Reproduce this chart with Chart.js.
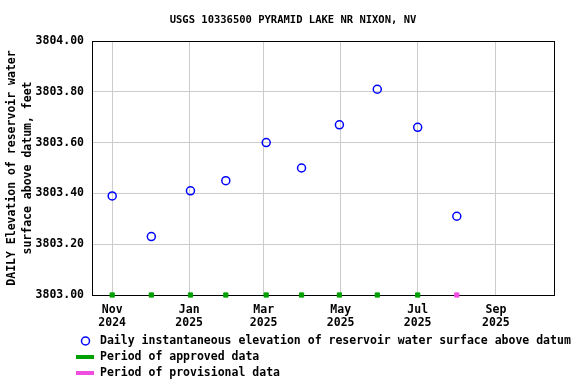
<!DOCTYPE html>
<html>
<head>
<meta charset="utf-8">
<script src="https://cdn.jsdelivr.net/npm/chart.js@4/dist/chart.umd.min.js"></script>
<style>
  html, body { margin: 0; padding: 0; background: #fff; }
  #wrap { width: 576px; height: 384px; }
</style>
</head>
<body>
<div id="wrap"><canvas id="levelChart"></canvas></div>
<script>
// measurement dates and lake elevations (feet)
const sampleDates = ['2024-11-01', '2024-12-02', '2025-01-02', '2025-01-30', '2025-03-03',
    '2025-03-31', '2025-04-30', '2025-05-30', '2025-07-01', '2025-08-01'];
const elevations = [3803.39, 3803.23, 3803.41, 3803.45, 3803.60,
    3803.50, 3803.67, 3803.81, 3803.66, 3803.31];
const approval = ['A', 'A', 'A', 'A', 'A', 'A', 'A', 'A', 'A', 'P'];

// x axis ticks
const tickDates = ['2024-11-01', '2025-01-01', '2025-03-01', '2025-05-01', '2025-07-01', '2025-09-01'];
const tickMonths = ['Nov', 'Jan', 'Mar', 'May', 'Jul', 'Sep'];
const tickYears = ['2024', '2025', '2025', '2025', '2025', '2025'];
const xStart = '2024-10-16';
const xEnd = '2025-10-17';

const titleText = 'USGS 10336500 PYRAMID LAKE NR NIXON, NV';
const yTitle = ['DAILY Elevation of reservoir water', 'surface above datum, feet'];
const yMin = 3803.0, yMax = 3804.0, yStep = 0.2;

const FONT = "'DejaVu Sans Mono', 'Liberation Mono', monospace";
const BLUE = '#0000ff', GREEN = '#00a000', PINK = '#f04ee0';

//days since Nov 1 2024
const base = Date.UTC(2024, 10, 1);
function dayNum(s) {
    var p = s.split('-');
    return (Date.UTC(+p[0], +p[1] - 1, +p[2]) - base) / 86400000;
}
const tickDays = tickDates.map(dayNum);

const points = sampleDates.map((d, i) => ({ x: dayNum(d), y: elevations[i] }));
const approvedPts = sampleDates.filter((d, i) => approval[i] === 'A').map(d => ({ x: dayNum(d), y: yMin }));
const provisionalPts = sampleDates.filter((d, i) => approval[i] === 'P').map(d => ({ x: dayNum(d), y: yMin }));

// title, a little right of the page centre like the original
const topTitle = {
    id: 'topTitle',
    afterDraw(chart) {
        const c = chart.ctx;
        c.save();
        c.font = 'bold 10.5px ' + FONT;
        c.textAlign = 'center';
        c.textBaseline = 'middle';
        c.fillStyle = '#000';
        c.fillText(titleText, chart.width / 2 + 5, 20);
        c.restore();
    }
};

// legend drawn underneath, one item per row
const bottomLegend = {
    id: 'bottomLegend',
    afterDraw(chart) {
        const c = chart.ctx;
        const top = chart.chartArea.bottom;
        c.save();
        c.font = 'bold 11.5px ' + FONT;
        c.textBaseline = 'middle';
        c.fillStyle = '#000';
        chart.data.datasets.forEach((ds, i) => {
            const y = top + 46 + i * 16;
            if (ds.legendKind === 'marker') {
                c.beginPath();
                c.arc(85.5, y, 4, 0, Math.PI * 2);
                c.strokeStyle = ds.borderColor;
                c.lineWidth = 1.5;
                c.stroke();
            } else {
                c.fillStyle = ds.backgroundColor;
                c.fillRect(76, y - 2, 18, 4);
            }
            c.fillStyle = '#000';
            c.fillText(ds.label, 100, y);
        });
        c.restore();
    }
};

const frame = {
    id: 'frame',
    beforeDatasetsDraw(chart) {
        const a = chart.chartArea;
        const c = chart.ctx;
        c.save();
        c.strokeStyle = '#000';
        c.lineWidth = 1;
        c.strokeRect(Math.round(a.left) + 0.5, Math.round(a.top) + 0.5,
            Math.round(a.right - a.left), Math.round(a.bottom - a.top));
        c.restore();
    }
};

const config = {
    type: 'scatter',
    data: {
        datasets: [{
            label: 'Daily instantaneous elevation of reservoir water surface above datum',
            legendKind: 'marker',
            data: points,
            pointStyle: 'circle',
            pointRadius: 4,
            borderColor: BLUE,
            backgroundColor: 'rgba(0,0,0,0)',
            pointBorderWidth: 1.5,
            showLine: false
        }, {
            label: 'Period of approved data',
            legendKind: 'bar',
            data: approvedPts,
            pointStyle: 'rect',
            pointRadius: 3,
            pointBorderWidth: 1,
            backgroundColor: GREEN,
            borderColor: GREEN,
            clip: false
        }, {
            label: 'Period of provisional data',
            legendKind: 'bar',
            data: provisionalPts,
            pointStyle: 'rect',
            pointRadius: 3,
            pointBorderWidth: 1,
            backgroundColor: PINK,
            borderColor: PINK,
            clip: false
        }]
    },
    options: {
        responsive: true,
        maintainAspectRatio: false,
        animation: false,
        events: [],
        layout: {
            padding: { left: 0, right: 22, top: 41, bottom: 55 }
        },
        plugins: {
            legend: { display: false },
            tooltip: { enabled: false },
            title: { display: false }
        },
        scales: {
            x: {
                type: 'linear',
                min: dayNum(xStart),
                max: dayNum(xEnd),
                afterBuildTicks: (scale) => {
                    scale.ticks = tickDays.map(v => ({ value: v }));
                },
                afterFit: (scale) => { scale.height = 34; },
                ticks: {
                    autoSkip: false,
                    maxRotation: 0,
                    padding: 9,
                    color: '#000',
                    font: { family: FONT, size: 11.5, weight: 'bold', lineHeight: 1.1 },
                    callback: (v) => {
                        var i = tickDays.indexOf(v);
                        return i < 0 ? '' : [tickMonths[i], tickYears[i]];
                    }
                },
                grid: { color: '#cccccc', lineWidth: 1, drawTicks: false },
                border: { display: true, color: '#000' }
            },
            y: {
                min: yMin,
                max: yMax,
                afterFit: (scale) => { scale.width = 92; },
                ticks: {
                    stepSize: yStep,
                    padding: 8,
                    color: '#000',
                    font: { family: FONT, size: 11.5, weight: 'bold' },
                    callback: (v) => v.toFixed(2)
                },
                grid: { color: '#cccccc', lineWidth: 1, drawTicks: false },
                border: { display: true, color: '#000' },
                title: {
                    display: true,
                    text: yTitle,
                    color: '#000',
                    font: { family: FONT, size: 11.5, weight: 'bold', lineHeight: 1.4 },
                    padding: { top: 4, bottom: 0 }
                }
            }
        }
    },
    plugins: [frame, topTitle, bottomLegend]
};

const levelChart = new Chart(document.getElementById('levelChart'), config);
</script>
</body>
</html>
